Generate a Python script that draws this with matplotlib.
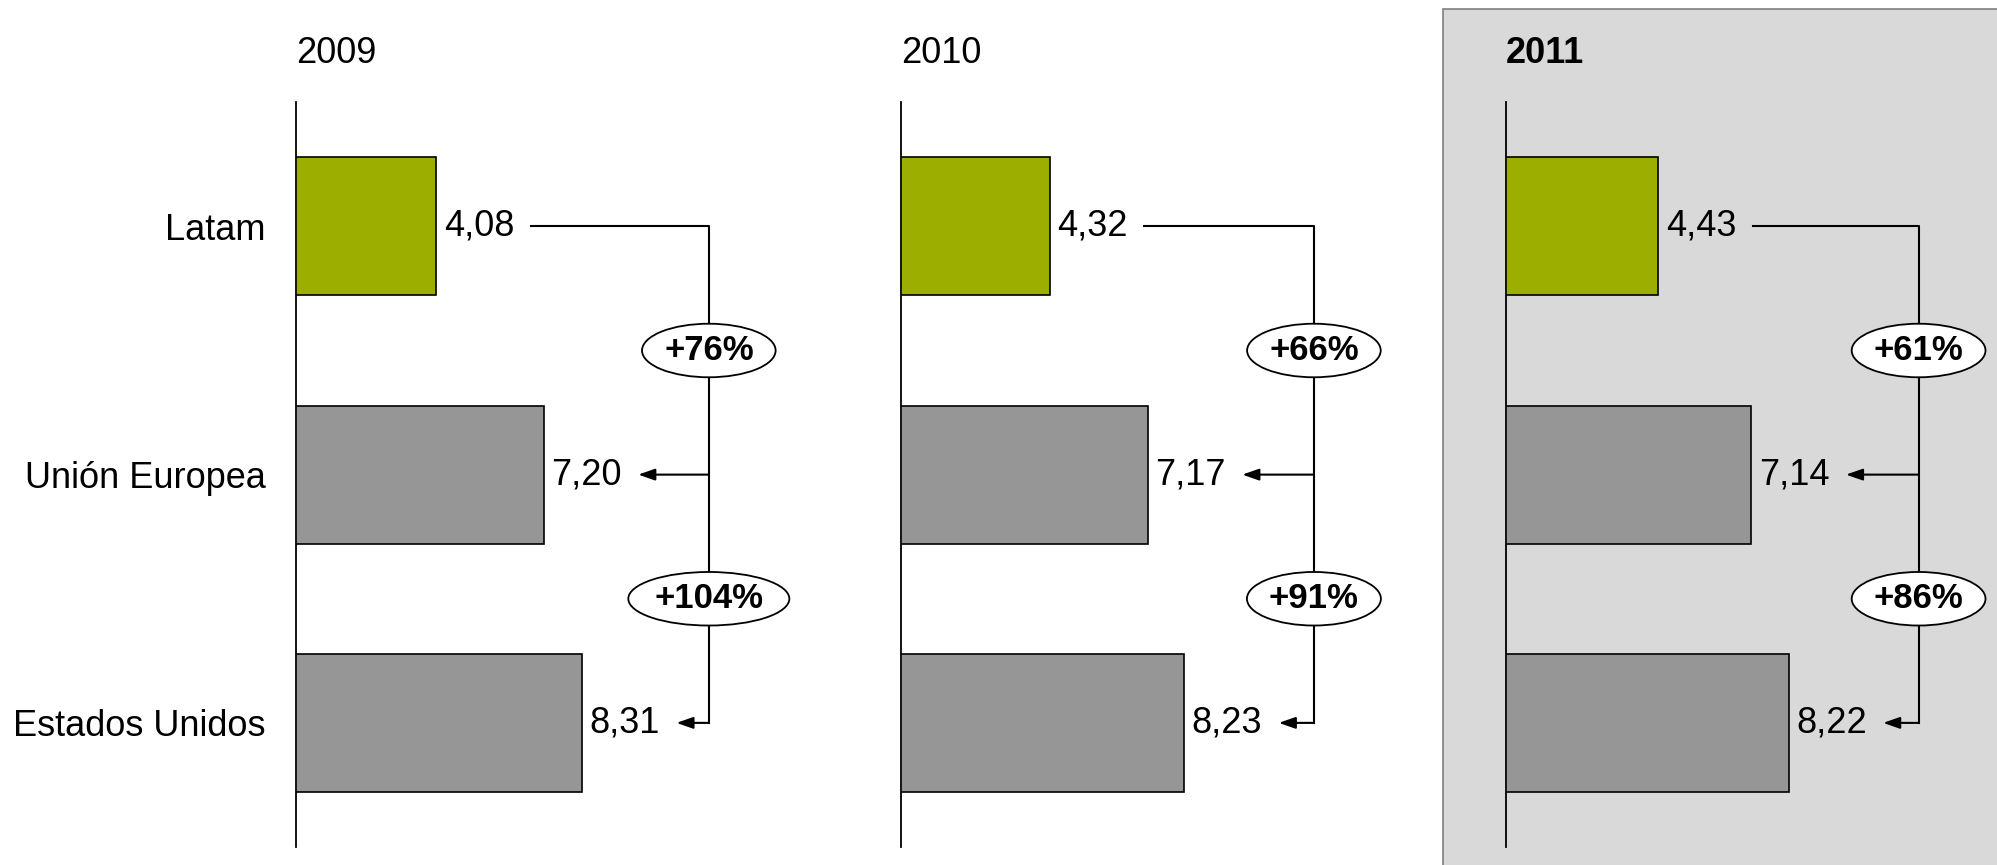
import matplotlib.pyplot as plt
from matplotlib.patches import Rectangle

plt.rcParams["font.family"] = ["Liberation Sans", "DejaVu Sans"]

# ---- datos ----
regiones = ["Latam", "Unión Europea", "Estados Unidos"]
anios = ["2009", "2010", "2011"]
valores_2009 = [4.08, 7.20, 8.31]
valores_2010 = [4.32, 7.17, 8.23]
valores_2011 = [4.43, 7.14, 8.22]
dif_ue = ["+76%", "+66%", "+61%"]
dif_eeuu = ["+104%", "+91%", "+86%"]

valores = [valores_2009, valores_2010, valores_2011]

VERDE = "#9caf00"
GRIS = "#969696"
FS = 26

fig = plt.figure(figsize=(19.97, 8.65), dpi=100)

# fondo gris del ultimo panel
fig.patches.append(Rectangle((0.7226, -0.01), 0.3, 1.0, transform=fig.transFigure,
                             facecolor="#d9d9d9", edgecolor="#808080", lw=1.2, zorder=-5))

lefts = [0.1482, 0.4512, 0.7540]
for i, (anio, vals) in enumerate(zip(anios, valores)):
    ax = fig.add_axes([lefts[i], 0.0208, 0.2412, 0.861])
    ax.set_facecolor("none")
    y = range(len(regiones))
    colores = [VERDE, GRIS, GRIS]
    ax.barh(y, vals, height=0.555, color=colores, edgecolor="black", lw=1.2, zorder=3)
    ax.set_xlim(0, 14)
    ax.set_ylim(2.5, -0.5)
    for s in ["top", "right", "bottom"]:
        ax.spines[s].set_visible(False)
    ax.spines["left"].set_linewidth(1.3)
    ax.set_xticks([])
    ax.set_yticks(list(y))
    if i == 0:
        ax.set_yticklabels(regiones, fontsize=FS)
        ax.tick_params(axis="y", length=0, pad=22)
    else:
        ax.set_yticklabels([])
        ax.tick_params(axis="y", length=0)

    ax.text(0, 1.066, anio, transform=ax.transAxes, fontsize=FS,
            fontweight="bold" if i == 2 else "normal", va="center", ha="left")

    # etiquetas de valor
    for j, v in enumerate(vals):
        ax.text(v + 0.22, j, f"{v:.2f}".replace(".", ","), fontsize=FS,
                va="center", ha="left")

    # corchete con flechas
    xb = 12
    ax.plot([vals[0] + 2.75, xb, xb], [0, 0, 2], color="black", lw=1.5, zorder=2)
    for j in (1, 2):
        ax.annotate("", xy=(vals[j] + 2.75, j), xytext=(xb, j),
                    arrowprops=dict(arrowstyle="-|>,head_length=1.0,head_width=0.35",
                                    color="black", lw=1.5, shrinkA=0, shrinkB=0))

    for yy, txt in ((0.5, dif_ue[i]), (1.5, dif_eeuu[i])):
        ax.text(xb, yy, txt, fontsize=25, fontweight="bold", ha="center", va="center",
                zorder=4, bbox=dict(boxstyle="ellipse,pad=0.07", facecolor="white",
                                    edgecolor="black", lw=1.3))

fig.savefig("out.png", dpi=100)
